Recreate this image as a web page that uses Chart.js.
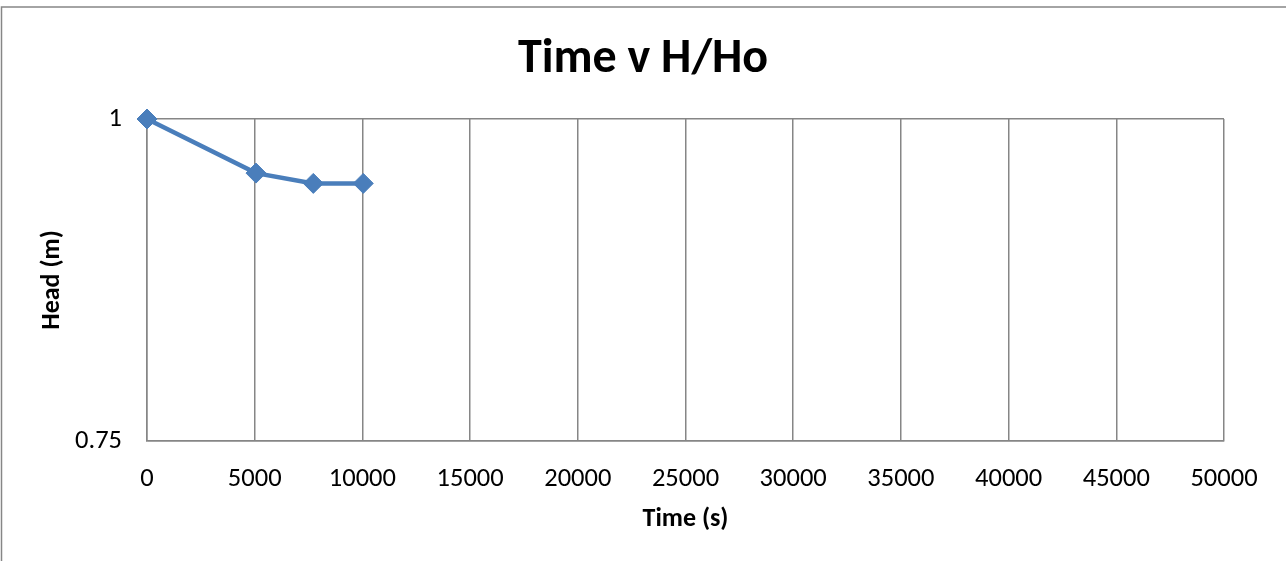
<!DOCTYPE html>
<html>
<head>
<meta charset="utf-8">
<script src="https://cdn.jsdelivr.net/npm/chart.js@4"></script>
<style>
  html, body { margin: 0; padding: 0; background: #ffffff; }
  canvas { display: block; }
</style>
</head>
<body>
<canvas id="headChart" width="1286" height="561"></canvas>
<script>
// data
const times = [0, 5060, 7720, 10040];
const headRatio = [1, 0.958, 0.95, 0.95];
const xTickStep = 5000;
const yTickStep = 0.25;

const gridGray = "#868686";
const lineBlue = "#4a7ebb";
const fontFamily = "Carlito, Lato, 'Open Sans', sans-serif";

// outer frame of the chart object
const frameBorder = {
  id: "frameBorder",
  beforeDraw(chart) {
    const ctx = chart.ctx;
    ctx.save();
    ctx.strokeStyle = gridGray;
    ctx.lineWidth = 1.5;
    ctx.strokeRect(1.5, 7, chart.width + 20, chart.height + 20);
    ctx.restore();
  },
};

const ctx = document.getElementById("headChart").getContext("2d");

new Chart(ctx, {
  type: "line",
  data: {
    datasets: [
      {
        label: "H/Ho",
        data: times.map((t, i) => ({ x: t, y: headRatio[i] })),
        borderColor: lineBlue,
        backgroundColor: lineBlue,
        borderWidth: 4.5,
        pointStyle: "rectRot",
        pointRadius: 10,
        pointBackgroundColor: lineBlue,
        pointBorderColor: lineBlue,
        pointBorderWidth: 1,
        tension: 0,
        clip: false,
      },
    ],
  },
  options: {
    responsive: false,
    animation: false,
    // equal side padding keeps the title centred on the whole canvas
    layout: { padding: { left: 31, right: 31, top: 0, bottom: 0 } },
    plugins: {
      legend: { display: false },
      tooltip: { enabled: false },
      title: {
        display: true,
        text: "Time v H/Ho",
        color: "#000000",
        font: { family: fontFamily, size: 48, weight: "bold" },
        padding: { top: 31, bottom: 30.4 },
      },
    },
    scales: {
      x: {
        type: "linear",
        min: 0,
        max: 50000,
        afterFit(scale) {
          scale.height = 120;
          scale.paddingRight = 62; // plot ends at x=1224 like the reference
        },
        ticks: {
          stepSize: xTickStep,
          padding: 22,
          color: "#000000",
          font: { family: fontFamily, size: 26.5 },
          callback: (v) => String(v),
        },
        grid: { color: gridGray, lineWidth: 1.5, drawTicks: false },
        border: { color: gridGray, width: 1.5 },
        title: {
          display: true,
          text: "Time (s)",
          color: "#000000",
          font: { family: fontFamily, size: 26, weight: "bold" },
          padding: { top: 0, bottom: 26 },
        },
      },
      y: {
        min: 0.75,
        max: 1,
        afterFit(scale) { scale.width = 116; },
        ticks: {
          stepSize: yTickStep,
          padding: 25,
          color: "#000000",
          font: { family: fontFamily, size: 26.5 },
          callback: (v) => String(v),
        },
        grid: { color: gridGray, lineWidth: 1.5, drawTicks: false },
        border: { color: gridGray, width: 1.5 },
        title: {
          display: true,
          text: "Head (m)",
          color: "#000000",
          font: { family: fontFamily, size: 26, weight: "bold" },
          padding: { top: 6, bottom: 0 },
        },
      },
    },
  },
  plugins: [frameBorder],
});
</script>
</body>
</html>
